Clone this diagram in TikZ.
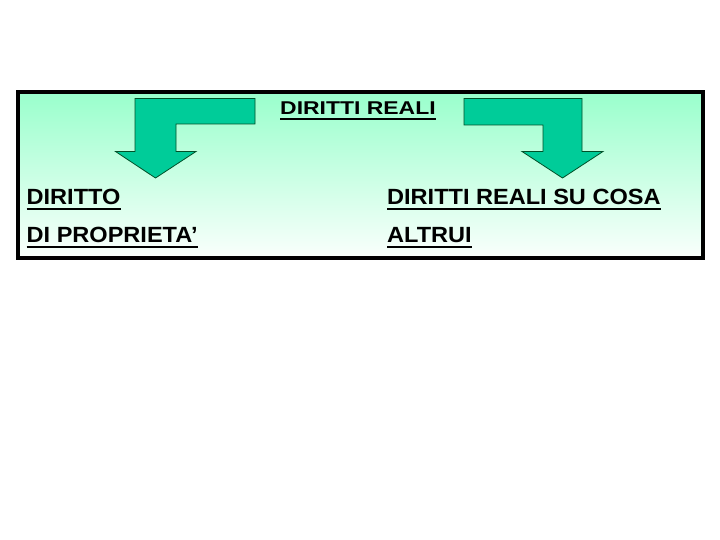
\documentclass[tikz,border=0pt]{standalone}
\usepackage{fontspec}
\setmainfont{Liberation Sans}
\usepackage{graphicx}
\definecolor{boxtop}{RGB}{153,255,204}
\definecolor{boxbot}{RGB}{250,255,252}
\definecolor{arrowfill}{RGB}{0,204,153}
\definecolor{arrowline}{RGB}{0,80,40}
\tikzset{
  lbl/.style={anchor=base west, inner sep=0pt, font=\bfseries},
  ulthin/.style={line width=1.7pt},
  ulthick/.style={line width=2pt},
  bentarrow/.style={fill=arrowfill, draw=arrowline, line width=0.8pt, line join=miter},
}
\newcommand{\bigtxt}[1]{\scalebox{1.07}[1]{\fontsize{22}{26}\selectfont #1}}
\newcommand{\toptxt}[1]{\scalebox{1.24}[1]{\fontsize{18.5}{22}\selectfont #1}}
\begin{document}
\begin{tikzpicture}[x=1pt,y=-1pt]
\useasboundingbox (0,0) rectangle (720,540);
\fill[white] (0,0) rectangle (720,540);
% framed box with gradient
\shade[top color=boxtop, bottom color=boxbot] (18,92) rectangle (702.5,258);
\draw[line width=4pt] (18,92) rectangle (702.5,258);
% bent arrows
\draw[bentarrow] (255,98.5) -- (135,98.5) -- (135,151.5) -- (115.5,151.5) -- (155.5,178)
  -- (196,151.5) -- (176,151.5) -- (176,124) -- (255,124) -- cycle;
\draw[bentarrow] (464,98.5) -- (582,98.5) -- (582,151.5) -- (603,151.5) -- (562.5,178)
  -- (522,151.5) -- (543,151.5) -- (543,125) -- (464,125) -- cycle;
% labels
\node[lbl] (top) at (280,115) {\toptxt{DIRITTI REALI}};
\node[lbl] (l1) at (26.5,204.5) {\bigtxt{DIRITTO}};
\node[lbl] (l2) at (26.5,242.5) {\bigtxt{DI PROPRIETA’}};
\node[lbl] (r1) at (387,205) {\bigtxt{DIRITTI REALI SU COSA}};
\node[lbl] (r2) at (387,242.5) {\bigtxt{ALTRUI}};
% underlines
\draw[ulthin] ([yshift=-4.3pt]top.base west) -- ([yshift=-4.3pt]top.base east);
\foreach \n in {l1,l2,r1,r2}
  \draw[ulthick] ([yshift=-4.5pt]\n.base west) -- ([yshift=-4.5pt]\n.base east);
\end{tikzpicture}
\end{document}
